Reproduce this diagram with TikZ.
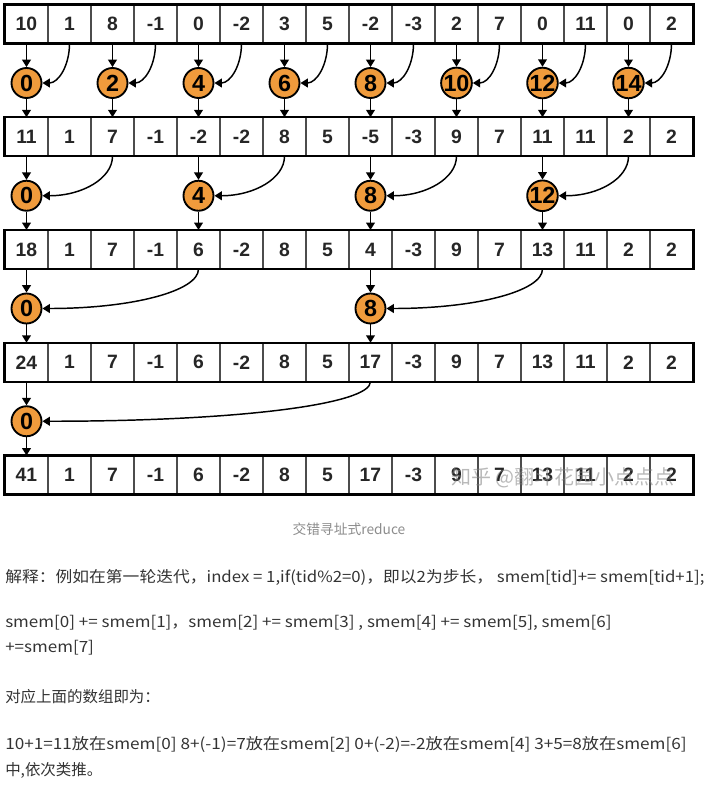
\documentclass[tikz,border=0pt]{standalone}
\usepackage{fontspec}
\usepackage{xcolor}
\usepackage{tikz}
\usetikzlibrary{arrows.meta}
\setmainfont{Noto Sans CJK SC}
\newfontfamily\cellfont{Liberation Sans}
\definecolor{sumorange}{RGB}{240,155,60}
\definecolor{bodygray}{RGB}{51,51,51}
\tikzset{
  cell/.style={draw=black!70, line width=0.8pt, minimum width=32.25pt, minimum height=28.5pt,
    inner sep=0pt, text=black!85, font=\cellfont\bfseries\fontsize{14.5}{14.5}\selectfont},
  adder/.style={circle, draw=black, line width=1.4pt, fill=sumorange, minimum size=22.5pt,
    inner sep=0pt, font=\cellfont\bfseries\fontsize{17.5}{17.5}\selectfont},
  arr/.style={-{Triangle[length=5.5pt,width=6.5pt]}, line width=1.1pt},
  para/.style={anchor=west, inner sep=0pt, text=bodygray, font=\fontsize{11.6}{13}\selectfont}
}
\begin{document}
\begin{tikzpicture}[x=0.75pt, y=-0.75pt]
    \useasboundingbox (0,0) rectangle (718,801);

    % Array rows
    \foreach \r/\vals in {1/{10,1,8,-1,0,-2,3,5,-2,-3,2,7,0,11,0,2},
                          2/{11,1,7,-1,-2,-2,8,5,-5,-3,9,7,11,11,2,2},
                          3/{18,1,7,-1,6,-2,8,5,4,-3,9,7,13,11,2,2},
                          4/{24,1,7,-1,6,-2,8,5,17,-3,9,7,13,11,2,2},
                          5/{41,1,7,-1,6,-2,8,5,17,-3,9,7,13,11,2,2}} {
        \foreach \v [count=\c from 0] in \vals
            \node[cell] (c\r-\c) at ({5+43*(\c+0.5)}, {24+112.75*(\r-1)}) {\v};
        \draw[line width=1.6pt] (c\r-0.north west) rectangle (c\r-15.south east);
    }

    % Adders of each pass
    \foreach \s/\k/\w/\idx in {1/1/16/{0,2,4,6,8,10,12,14}, 2/2/40/{0,4,8,12}, 3/4/90/{0,8}, 4/8/200/{0}} {
        \pgfmathtruncatemacro{\nxt}{\s+1}
        \foreach \i in \idx {
            \pgfmathtruncatemacro{\j}{\i+\k}
            \node[adder] (t\s-\i) at ({5+43*(\i+0.5)}, {83+112.75*(\s-1)}) {\i};
            \draw[arr] (c\s-\i.south) -- (t\s-\i.north);
            \draw[arr] (t\s-\i.south) -- (c\nxt-\i.north);
            \draw[arr] (c\s-\j.south) .. controls +(0,22) and +(\w,0) .. (t\s-\i.east);
        }
    }

    % Watermark and caption
    \node[text=gray, opacity=0.55, font=\fontsize{15}{15}\selectfont] (mark) at (563,478) {知乎 @翻斗花园小点点点};
    \node[text=black!45, font=\fontsize{10.3}{11}\selectfont] (caption) at (349,529) {交错寻址式reduce};

    % Explanation
    \node[para] (l1) at (5,577) {\scalebox{1.085}[1]{解释：例如在第一轮迭代，index = 1,if(tid\%2=0)，即以2为步长， smem[tid]+= smem[tid+1];}};
    \node[para] (l2) at (5,623) {\scalebox{1.1}[1]{smem[0] += smem[1]，smem[2] += smem[3] , smem[4] += smem[5], smem[6]}};
    \node[para] (l3) at (5,648) {\scalebox{1.1}[1]{+=smem[7]}};
    \node[para] (l4) at (5,697) {对应上面的数组即为：};
    \node[para] (l5) at (5,744) {\scalebox{1.11}[1]{10+1=11放在smem[0] 8+(-1)=7放在smem[2] 0+(-2)=-2放在smem[4] 3+5=8放在smem[6]}};
    \node[para] (l6) at (5,770) {中,依次类推。};
\end{tikzpicture}
\end{document}
